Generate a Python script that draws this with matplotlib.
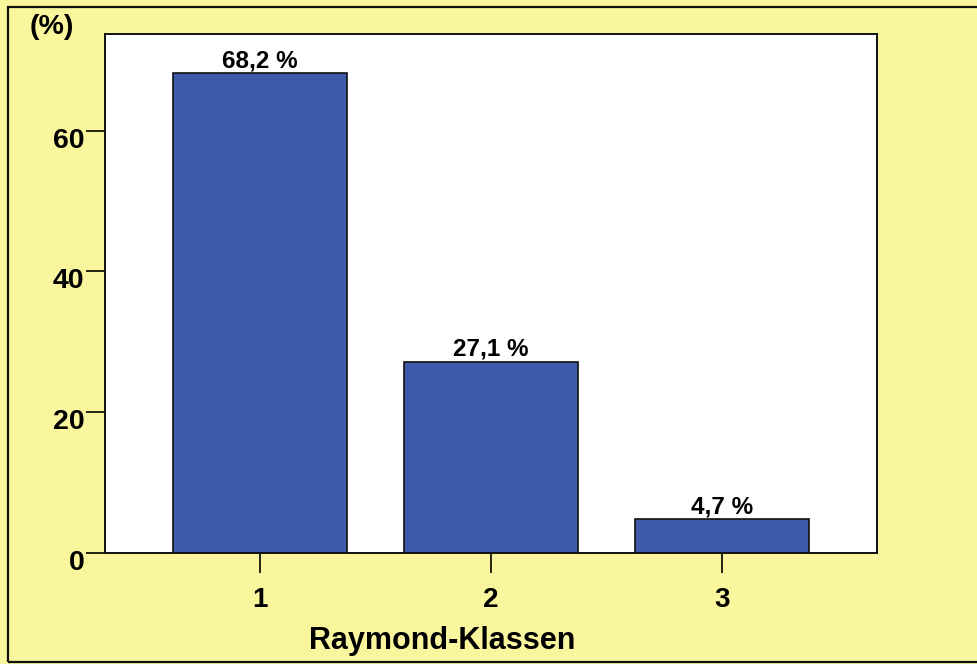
import matplotlib
matplotlib.use("Agg")
import matplotlib.pyplot as plt
from matplotlib.patches import Rectangle
from matplotlib.transforms import ScaledTranslation

categories = ["1", "2", "3"]
values = [68.2, 27.1, 4.7]
labels = ["68,2 %", "27,1 %", "4,7 %"]
yticks = [0, 20, 40, 60]

plt.rcParams['font.family'] = ['Liberation Sans', 'DejaVu Sans']
plt.rcParams['font.weight'] = 'bold'

W, H = 978, 664
fig = plt.figure(figsize=(W / 100, H / 100), dpi=100)
bg = '#F9F69E'
fig.patch.set_facecolor(bg)

# figure border
fig.add_artist(Rectangle((8 / W, 1 - 662 / H), 1.2, (662 - 7) / H,
                         transform=fig.transFigure, fill=False,
                         edgecolor='#111111', linewidth=1.6))

ax = fig.add_axes([105 / W, 1 - 552.5 / H, (877 - 105) / W, (552.5 - 34) / H])
ax.set_facecolor('white')

x = list(range(1, len(categories) + 1))
ax.bar(x, values, width=0.75, color='#3E5AAA', edgecolor='#111111', linewidth=1.2, zorder=2)
for xi, v, lab in zip(x, values, labels):
    ax.annotate(lab, (xi, v), xytext=(0, 4.5), textcoords='offset points',
                ha='center', va='baseline', fontsize=17.5, fontweight='bold')

ax.set_xlim(0.33, 3.67)
ax.set_ylim(0, 73.8)
ax.set_xticks(x)
ax.set_xticklabels(categories, fontsize=20, fontweight='bold')
ax.set_yticks(yticks)
ax.set_yticklabels([str(t) for t in yticks], fontsize=20.5, fontweight='bold')
ax.tick_params(axis='y', length=14, width=1.2, pad=1)
ax.tick_params(axis='x', length=14.5, width=1.2, pad=10)
shift = ScaledTranslation(0, -7 / 100, fig.dpi_scale_trans)
for lab in ax.get_yticklabels():
    lab.set_transform(lab.get_transform() + shift)
for s in ax.spines.values():
    s.set_linewidth(1.4)
    s.set_color('#111111')

fig.text(52 / W, 1 - 27 / H, "(%)", ha='center', va='center', fontsize=20.5, fontweight='bold')
fig.text(442 / W, 1 - 641 / H, "Raymond-Klassen", ha='center', va='center', fontsize=22, fontweight='bold')

fig.savefig("out.png", dpi=100, facecolor=bg)
